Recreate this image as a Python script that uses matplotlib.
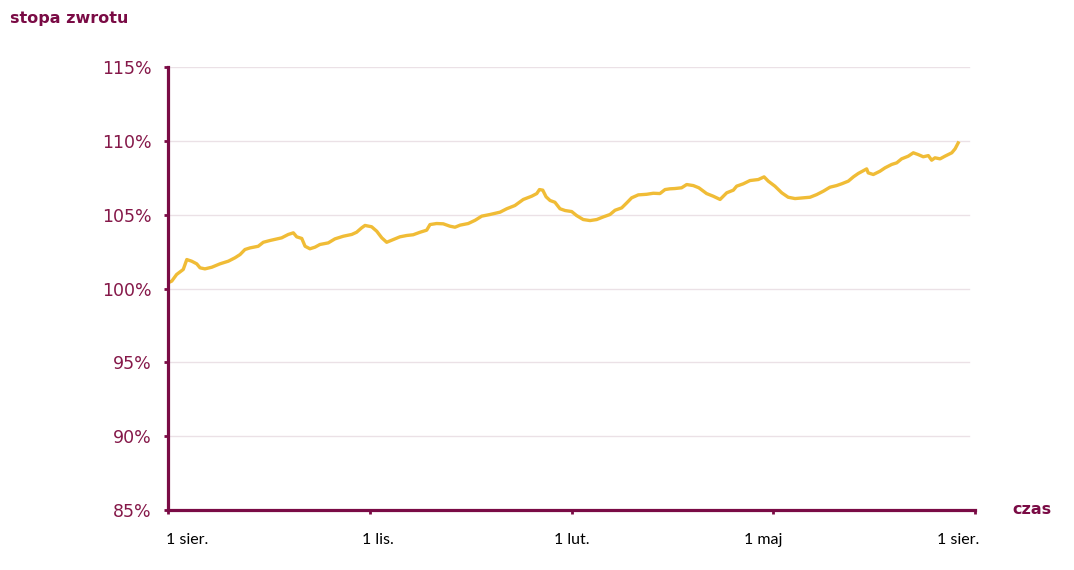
import matplotlib
matplotlib.use('Agg')
import matplotlib.pyplot as plt
import matplotlib.transforms as mtransforms
import numpy as np

# kolory
maroon = '#7A0B45'
gold = '#F0BC36'

# dni od 1 sierpnia i stopa zwrotu [%]
days = [0.1, 1.7, 3.9, 6.9, 8.5, 10.7, 13.0, 14.5, 16.7, 19.8, 23.5, 27.3, 30.3, 32.6, 34.8,
        37.1, 40.8, 43.1, 46.1, 51.4, 54.4, 56.7, 58.2, 60.5, 62.0, 64.2, 66.5, 68.7, 72.5,
        75.5, 79.3, 83.1, 85.3, 87.6, 89.1, 92.1, 94.4, 96.7, 98.9, 101.2, 104.9, 108.0,
        110.9, 114.0, 117.0, 118.5, 121.5, 124.5, 127.5, 129.8, 132.1, 135.8, 138.9, 141.9,
        145.6, 150.2, 153.2, 156.9, 160.7, 164.5, 166.8, 168.0, 169.5, 171.0, 172.8, 175.0,
        177.3, 179.6, 182.6, 184.8, 187.8, 190.9, 193.9, 196.9, 199.9, 202.2, 205.2, 207.5,
        209.7, 212.7, 216.5, 219.5, 222.5, 224.8, 227.0, 229.3, 232.3, 234.6, 237.6, 240.1,
        243.6, 246.6, 249.7, 252.7, 255.7, 257.2, 260.2, 263.2, 267.0, 269.6, 271.5, 274.5,
        277.6, 280.5, 283.6, 287.3, 290.4, 293.4, 296.4, 299.4, 302.4, 304.7, 307.7, 310.0,
        312.2, 316.0, 316.7, 319.0, 322.0, 324.3, 327.3, 329.6, 331.8, 334.8, 337.1, 339.3,
        341.6, 343.9, 345.4, 346.9, 349.2, 351.4, 354.5, 356.0, 357.4]
returns = [100.39, 100.50, 100.95, 101.29, 101.96, 101.85, 101.67, 101.40, 101.33, 101.44,
           101.67, 101.85, 102.08, 102.30, 102.64, 102.75, 102.86, 103.13, 103.25, 103.43,
           103.66, 103.77, 103.50, 103.39, 102.86, 102.69, 102.80, 102.98, 103.09, 103.36,
           103.54, 103.66, 103.81, 104.11, 104.27, 104.18, 103.88, 103.43, 103.13, 103.27,
           103.50, 103.59, 103.64, 103.81, 103.95, 104.33, 104.40, 104.38, 104.22, 104.15,
           104.29, 104.40, 104.62, 104.90, 105.01, 105.17, 105.40, 105.62, 106.03, 106.25,
           106.43, 106.70, 106.66, 106.21, 105.96, 105.84, 105.40, 105.28, 105.21, 104.94,
           104.67, 104.60, 104.67, 104.85, 105.01, 105.30, 105.46, 105.80, 106.14, 106.34,
           106.38, 106.45, 106.43, 106.70, 106.75, 106.77, 106.82, 107.04, 106.97, 106.82,
           106.43, 106.25, 106.03, 106.48, 106.66, 106.93, 107.09, 107.31, 107.38, 107.56,
           107.27, 106.93, 106.48, 106.18, 106.09, 106.14, 106.18, 106.36, 106.59, 106.86,
           106.97, 107.09, 107.27, 107.56, 107.79, 108.10, 107.83, 107.72, 107.94, 108.17,
           108.40, 108.51, 108.78, 108.96, 109.19, 109.07, 108.92, 109.00, 108.69, 108.85,
           108.78, 108.96, 109.19, 109.46, 109.86]

x_labels = ['1 sier.', '1 lis.', '1 lut.', '1 maj', '1 sier.']
y_ticks = [85, 90, 95, 100, 105, 110, 115]

fig = plt.figure(figsize=(10.74, 5.70), dpi=100)
ax = fig.add_axes([168 / 1074, 1 - 510 / 570, 807 / 1074, 443 / 570])

ax.plot(days, returns, color=gold, linewidth=2.4, solid_joinstyle='round')

ax.set_xlim(0, 365)
ax.set_ylim(85, 115)

# siatka tylko do 970 px
ax.set_yticks(y_ticks)
ax.set_yticklabels(['%d%%' % v for v in y_ticks])
for v in y_ticks[1:]:
    ax.plot([0, 362.5], [v, v], color='#EBE1E6', linewidth=1, zorder=0.5)

xt = np.arange(5) * 365 / 4
ax.set_xticks(xt)
ax.set_xticklabels([])
# etykiety osi x rysowane ręcznie, z przesunięciem jak w oryginale (piksele)
shifts = [-2, 8, 0, -10, 4]
aligns = ['left', 'center', 'center', 'center', 'right']
trans = ax.get_xaxis_transform()
for x, lab, dx, ha in zip(xt, x_labels, shifts, aligns):
    off = mtransforms.ScaledTranslation(dx / 100, -30 / 100, fig.dpi_scale_trans)
    ax.text(x, 0, lab, transform=trans + off, ha=ha, va='center',
            fontfamily='Lato', fontsize=11.5, color='black', clip_on=False)

for s in ['top', 'right']:
    ax.spines[s].set_visible(False)
for s in ['left', 'bottom']:
    ax.spines[s].set_color(maroon)
    ax.spines[s].set_linewidth(2.3)

ax.tick_params(axis='y', colors=maroon, labelcolor='#851849', labelsize=12.5,
               length=3, width=2, pad=9)
ax.tick_params(axis='x', colors=maroon, length=3, width=2)
for t in ax.get_yticklabels():
    t.set_fontfamily('DejaVu Sans')

fig.text(10 / 1074, 1 - 18 / 570, 'stopa zwrotu', fontsize=11.5, fontweight='bold',
         color=maroon, ha='left', va='center')
fig.text(1012 / 1074, 1 - 510 / 570, 'czas', fontsize=11.5, fontweight='bold',
         color=maroon, ha='left', va='center')

plt.savefig('out.png', dpi=100)
